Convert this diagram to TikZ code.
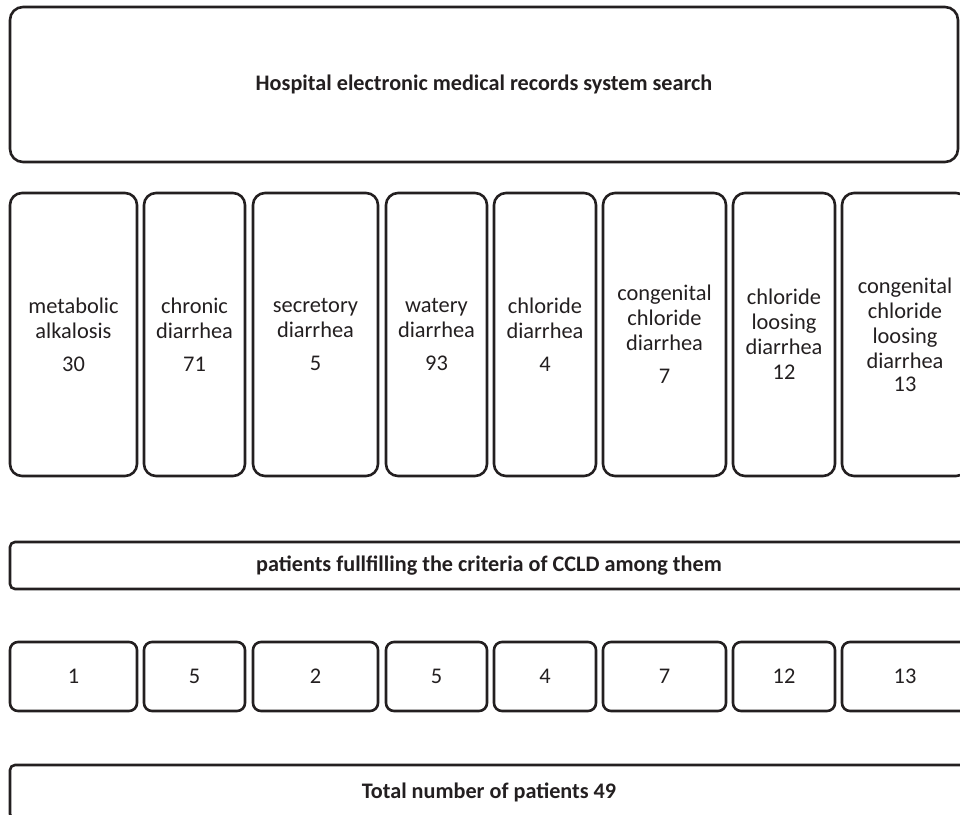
\documentclass[tikz,border=0pt]{standalone}
\usepackage{fontspec}
\setmainfont{Carlito}
\definecolor{ink}{HTML}{231F20}
\begin{document}
\begin{tikzpicture}[x=1pt,y=1pt,
  every node/.style={text=ink},
  boxbase/.style={draw=ink, line width=2.6pt, inner sep=0pt, outer sep=0pt, align=center,
    font=\fontsize{22.4}{25}\selectfont},
  bigbox/.style={boxbase, rounded corners=13pt, font=\fontsize{22.2}{25}\selectfont\bfseries},
  tallbox/.style={boxbase, rounded corners=12pt, minimum height=283pt},
  numbox/.style={boxbase, rounded corners=8pt, minimum height=69pt},
  bandbox/.style={boxbase, rounded corners=5pt, font=\fontsize{22.2}{25}\selectfont\bfseries}]
\useasboundingbox (0,0) rectangle (960,-814);
\clip (0,0) rectangle (960,-814);
% top
\node[bigbox, minimum width=948pt, minimum height=155pt] (top) at (484,-84.5)
  {Hospital electronic medical records system search};
% row 1
\node[tallbox, minimum width=127pt] (c1) at (73.5,-334.5) {metabolic\\alkalosis\\[8pt]30};
\node[tallbox, minimum width=101pt] (c2) at (194.5,-334.5) {chronic\\diarrhea\\[8pt]71};
\node[tallbox, minimum width=125pt] (c3) at (315.5,-334.5) {secretory\\diarrhea\\[8pt]5};
\node[tallbox, minimum width=101pt] (c4) at (436.5,-334.5) {watery\\diarrhea\\[8pt]93};
\node[tallbox, minimum width=102pt] (c5) at (545,-334.5) {chloride\\diarrhea\\[8pt]4};
\node[tallbox, minimum width=123pt] (c6) at (664.5,-334.5) {congenital\\chloride\\diarrhea\\[8pt]7};
\node[tallbox, minimum width=102pt] (c7) at (784,-334.5) {chloride\\loosing\\diarrhea\\12};
\node[tallbox, minimum width=126pt] (c8) at (905,-334.5) {congenital\\chloride\\loosing\\diarrhea\\[-2pt]13};
% criteria band
\node[bandbox, minimum width=958pt, minimum height=47pt] (crit) at (489,-565.5)
  {patients fullfilling the criteria of CCLD among them};
% row 3
\node[numbox, minimum width=127pt] (n1) at (73.5,-676.5) {1};
\node[numbox, minimum width=101pt] (n2) at (194.5,-676.5) {5};
\node[numbox, minimum width=125pt] (n3) at (315.5,-676.5) {2};
\node[numbox, minimum width=101pt] (n4) at (436.5,-676.5) {5};
\node[numbox, minimum width=102pt] (n5) at (545,-676.5) {4};
\node[numbox, minimum width=123pt] (n6) at (664.5,-676.5) {7};
\node[numbox, minimum width=102pt] (n7) at (784,-676.5) {12};
\node[numbox, minimum width=126pt] (n8) at (905,-676.5) {13};
% total
\node[bandbox, minimum width=958pt, minimum height=54pt] (total) at (489,-792)
  {Total number of patients 49};
\end{tikzpicture}
\end{document}
